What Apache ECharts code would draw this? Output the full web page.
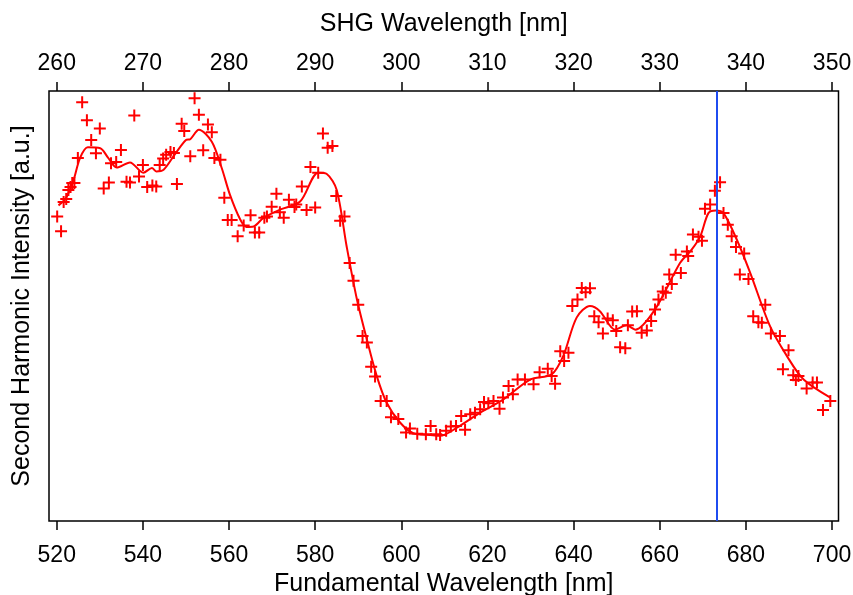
<!DOCTYPE html>
<html>
<head>
<meta charset="utf-8">
<script src="https://cdn.jsdelivr.net/npm/echarts@6/dist/echarts.min.js"></script>
<style>html,body{margin:0;padding:0;background:#fff}#c{width:853px;height:595px}</style>
</head>
<body>
<div id="c"></div>
<script>
// Fundamental wavelength (nm) and intensity (a.u.) of measured points
const measWavelength = [520.1,521.0,521.6,522.2,522.7,523.2,523.6,524.1,524.9,525.9,527.0,528.0,529.1,530.0,530.9,532.1,532.6,533.8,534.9,536.2,537.0,538.0,539.1,540.0,541.0,542.2,543.1,543.9,544.7,545.4,546.4,547.2,547.9,549.0,549.6,551.0,552.0,553.0,554.0,555.1,556.0,556.6,558.0,558.9,559.7,560.6,562.0,
563.4,565.0,566.0,567.0,568.2,568.8,569.9,571.0,571.8,572.7,573.9,575.2,575.6,576.9,578.0,578.9,580.0,580.7,581.8,582.9,584.0,584.9,585.8,586.8,588.0,
588.9,590.0,591.0,592.0,593.0,593.9,595.2,596.6,597.6,599.3,601.1,602.0,603.7,605.7,606.8,608.1,609.0,610.4,611.5,612.7,613.9,614.8,616.0,617.1,618.3,619.2,620.2,621.4,622.8,623.6,624.9,625.9,627.0,628.7,
630.7,632.1,634.0,634.9,635.7,636.9,637.8,638.8,639.7,640.9,641.9,642.8,643.8,644.8,645.8,646.8,647.9,649.1,649.9,650.8,652.0,652.6,653.6,654.7,655.8,657.0,658.0,658.9,659.7,660.7,661.4,662.2,662.8,663.7,664.9,666.3,666.6,
667.7,669.0,669.8,670.5,671.7,672.8,674.0,674.8,675.8,676.7,677.7,678.6,679.6,680.6,681.7,682.9,683.7,684.5,685.8,687.9,688.6,689.9,691.0,691.6,692.2,694.1,695.5,696.5,697.9,699.6];
const measIntensity = [70.8,67.4,74.2,74.9,77.0,77.7,78.6,78.6,84.4,97.4,93.2,88.6,85.5,91.3,77.3,78.7,83.2,83.5,86.3,78.9,78.7,94.3,80.1,82.8,77.7,78.0,77.8,82.8,84.3,85.2,85.8,85.6,78.4,92.4,90.7,84.8,98.3,94.5,86.2,92.2,90.4,84.4,84.0,75.2,70.0,70.0,66.2,
68.7,71.1,67.1,67.1,70.5,70.8,73.1,76.1,71.8,70.5,74.7,73.0,73.6,77.8,72.3,82.3,72.9,81.0,90.1,86.8,87.2,75.6,69.8,70.8,60.0,
55.9,50.3,43.0,41.5,35.9,33.6,27.9,27.9,24.1,23.7,20.6,21.5,20.3,20.2,22.1,20.2,20.0,21.0,22.0,22.1,24.4,21.2,24.8,25.2,26.0,27.7,27.4,27.9,26.1,28.7,31.4,29.5,32.9,32.9,
31.8,34.6,35.4,33.7,31.9,39.5,37.2,39.1,50.0,51.5,54.2,53.2,54.1,47.6,46.2,43.6,47.1,46.7,44.2,40.4,40.2,45.5,48.7,48.8,43.8,44.3,46.5,49.2,51.5,53.4,53.1,57.3,55.1,61.9,57.7,62.7,61.6,
66.6,66.1,65.2,72.6,73.6,76.8,78.8,71.6,68.9,66.2,63.7,57.3,62.2,56.3,47.6,46.2,46.1,50.3,43.6,43.0,35.3,39.7,33.9,32.8,33.7,30.8,32.2,32.2,25.8,27.9];

// Smoothed fit curve
const fitWavelength = [520.4,522.2,523.9,525.4,527.2,530.1,531.9,533.9,537.0,540.1,542.1,543.1,544.8,547.5,550.0,551.0,553.0,556.0,558.3,560.2,562.6,564.0,565.7,568.0,571.8,576.5,580.7,582.7,585.0,587.3,589.7,592.0,594.3,596.6,599.7,602.8,606.7,609.0,612.9,618.3,623.7,629.9,634.9,637.6,640.7,643.8,646.1,649.6,652.3,654.3,658.9,664.7,667.4,669.4,671.3,673.0,674.8,677.9,681.0,685.6,689.5,693.4,699.6];
const fitIntensity = [73.4,75.2,79.3,84.4,86.9,86.7,84.5,82.2,83.4,81.0,82.1,81.3,81.7,85.4,88.6,88.8,91.0,88.2,82.1,75.9,70.1,68.4,68.5,70.5,72.4,74.3,81.0,80.7,77.0,63.9,51.5,42.2,33.7,27.5,22.9,20.4,20.0,19.8,21.7,25.2,28.3,32.9,34.1,38.4,47.3,50.0,48.8,44.5,45.5,44.5,49.2,60.0,63.1,66.2,71.6,72.2,71.6,65.4,57.7,45.3,38.4,32.9,28.7];

// Marked wavelength (blue line)
const markerWavelength = 673.3;

// Tick labels
const fundTicks = [520,540,560,580,600,620,640,660,680,700];
const shgTicks = [260,270,280,290,300,310,320,330,340,350];

const xMin = 518.2, xMax = 701.5;
const font = '"Liberation Sans", Arial, sans-serif';

const chart = echarts.init(document.getElementById('c'), null, {renderer: 'canvas'});
chart.setOption({
  animation: false,
  backgroundColor: '#ffffff',
  grid: {left: 49, right: 14.5, top: 91, bottom: 74, outerBoundsMode: 'none', containLabel: false,
         show: true, borderColor: '#000', borderWidth: 1.5, backgroundColor: 'transparent'},
  xAxis: [
    {
      type: 'value', position: 'bottom', min: xMin, max: xMax,
      name: 'Fundamental Wavelength [nm]', nameLocation: 'middle', nameGap: 51,
      nameTextStyle: {fontFamily: font, fontSize: 25, color: '#000'},
      axisLine: {show: false},
      splitLine: {show: false},
      axisTick: {show: true, inside: false, length: 9, customValues: fundTicks, lineStyle: {color: '#000', width: 1.5}},
      axisLabel: {show: true, margin: 23, customValues: fundTicks, fontFamily: font, fontSize: 23, color: '#000', formatter: v => String(v)}
    },
    {
      type: 'value', position: 'top', min: xMin / 2, max: xMax / 2,
      name: 'SHG Wavelength [nm]', nameLocation: 'middle', nameGap: 54,
      nameTextStyle: {fontFamily: font, fontSize: 25, color: '#000'},
      axisLine: {show: false},
      splitLine: {show: false},
      axisTick: {show: true, inside: false, length: 9, customValues: shgTicks, lineStyle: {color: '#000', width: 1.5}},
      axisLabel: {show: true, margin: 16, customValues: shgTicks, fontFamily: font, fontSize: 23, color: '#000', formatter: v => String(v)}
    }
  ],
  yAxis: {
    type: 'value', min: 0, max: 100,
    name: 'Second Harmonic Intensity [a.u.]', nameLocation: 'middle', nameGap: 14, nameRotate: 90,
    nameTextStyle: {fontFamily: font, fontSize: 25, color: '#000'},
    axisLine: {show: false}, axisTick: {show: false}, axisLabel: {show: false}, splitLine: {show: false}
  },
  series: [
    {
      type: 'line', xAxisIndex: 0,
      data: fitWavelength.map((x, i) => [x, fitIntensity[i]]),
      smooth: 0.3, showSymbol: false, symbol: 'none',
      lineStyle: {color: '#ff0000', width: 2},
      z: 3,
      markLine: {
        silent: true, symbol: 'none', label: {show: false},
        lineStyle: {color: '#1f4cf0', width: 2, type: 'solid'},
        data: [{xAxis: markerWavelength}]
      }
    },
    {
      type: 'scatter', xAxisIndex: 0,
      data: measWavelength.map((x, i) => [x, measIntensity[i]]),
      symbol: 'path://M5,0H7V5H12V7H7V12H5V7H0V5H5Z',
      symbolSize: 12,
      itemStyle: {color: '#ff0000', opacity: 1},
      z: 4
    }
  ]
});
</script>
</body>
</html>
